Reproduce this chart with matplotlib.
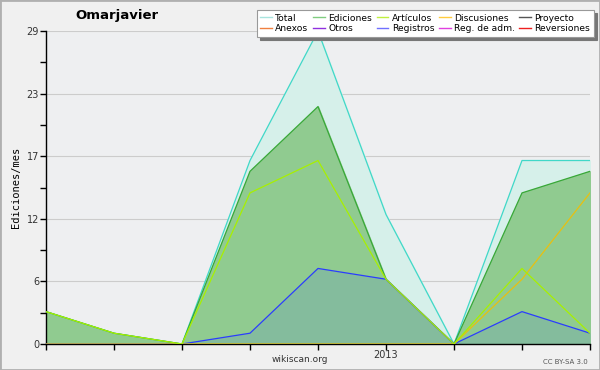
import numpy as np
import matplotlib
matplotlib.use("Agg")
import matplotlib.pyplot as plt
from matplotlib.lines import Line2D
from matplotlib.ticker import FixedLocator

# datos mensuales (9 meses, 2013 en el sexto)
meses = list(range(9))
total = [3, 1, 0, 17, 29, 12, 0, 17, 17]
ediciones = [3, 1, 0, 16, 22, 6, 0, 14, 16]
articulos = [3, 1, 0, 14, 17, 6, 0, 7, 1]
registros = [0, 0, 0, 1, 7, 6, 0, 3, 1]
discusiones = [0, 0, 0, 0, 0, 0, 0, 6, 14]
etiquetas_x = ["", "", "", "", "", "2013", "", "", ""]
ymax = 29

leyenda = [("Total", "#a8e4de"), ("Anexos", "#f08040"),
           ("Ediciones", "#80cc80"), ("Otros", "#9030e0"),
           ("Artículos", "#c0f040"), ("Registros", "#7070ff"),
           ("Discusiones", "#ffcc40"), ("Reg. de adm.", "#e040e0"),
           ("Proyecto", "#555555"), ("Reversiones", "#ee2020")]

fig = plt.figure(figsize=(6, 3.7), dpi=100, facecolor="#f0f0f0")
ax = fig.add_axes([46/600, 26/370, 544/600, 313/370])
ax.set_facecolor("#eeeff1")

# areas
ax.fill_between(meses, 0, total, color="#d6f0ea", zorder=1)
ax.plot(meses, total, color="#40d8c8", lw=0.9, zorder=3)
ax.fill_between(meses, 0, ediciones, color="#90cb90", zorder=2)
ax.plot(meses, ediciones, color="#38a838", lw=0.9, zorder=3)
ax.fill_between(meses, 0, registros, color="#3050ff", alpha=0.12, lw=0, zorder=2.5)
ax.plot(meses, registros, color="#2a3cff", lw=0.9, zorder=4)
ax.plot(meses, discusiones, color="#e8c010", lw=0.9, zorder=4)
ax.plot(meses, articulos, color="#a8f000", lw=0.9, zorder=5)

ax.set_xlim(0, 8)
ax.set_ylim(0, ymax)
ax.set_xticks(meses)
ax.set_xticklabels(etiquetas_x, fontsize=7, color="#333333")
yt = [ymax * k / 5 for k in range(6)]
ax.set_yticks(yt)
ax.set_yticklabels([str(int(round(v))) for v in yt], fontsize=7, color="#333333")
ax.yaxis.set_minor_locator(FixedLocator([ymax * (k + 0.5) / 5 for k in range(5)]))
ax.tick_params(axis="both", which="major", length=4, width=1, pad=1)
ax.tick_params(axis="x", which="major", pad=0)
ax.tick_params(axis="y", which="minor", length=4, width=1)
ax.grid(axis="y", color="#cccccc", lw=0.8, zorder=0)
ax.set_axisbelow(True)
for s in ["top", "right"]:
    ax.spines[s].set_visible(False)
ax.spines["left"].set_linewidth(1)
ax.spines["bottom"].set_linewidth(1)
ax.set_ylabel("Ediciones/mes", fontsize=7.5, family="DejaVu Sans Mono", labelpad=4)

fig.text(117/600, 1 - 15/370, "Omarjavier", fontsize=9.5, fontweight="bold",
         ha="center", va="center")
fig.text(300/600, 1 - 360/370, "wikiscan.org", fontsize=6.5, color="#333333",
         ha="center", va="center")
fig.text(588/600, 1 - 362/370, "CC BY-SA 3.0", fontsize=5, color="#555555",
         ha="right", va="center")

handles = [Line2D([], [], color=c, lw=1) for _, c in leyenda]
lg = fig.legend(handles, [n for n, _ in leyenda], ncol=5, fontsize=6.6,
                loc="upper right", bbox_to_anchor=(594/600, 1 - 10/370),
                frameon=True, fancybox=False,
                shadow={"color": "#777777", "alpha": 1, "ox": 2.5, "oy": -2.5},
                handlelength=1.3, handletextpad=0.35, columnspacing=0.5,
                labelspacing=0.15, borderpad=0.4, borderaxespad=0)
lg.get_frame().set_edgecolor("#999999")
lg.get_frame().set_linewidth(0.8)

fig.patches.append(plt.Rectangle((0, 0), 1, 1, transform=fig.transFigure,
                                 fill=False, edgecolor="#b0b0b0", lw=2))
fig.savefig("out.png", dpi=100, facecolor=fig.get_facecolor())
